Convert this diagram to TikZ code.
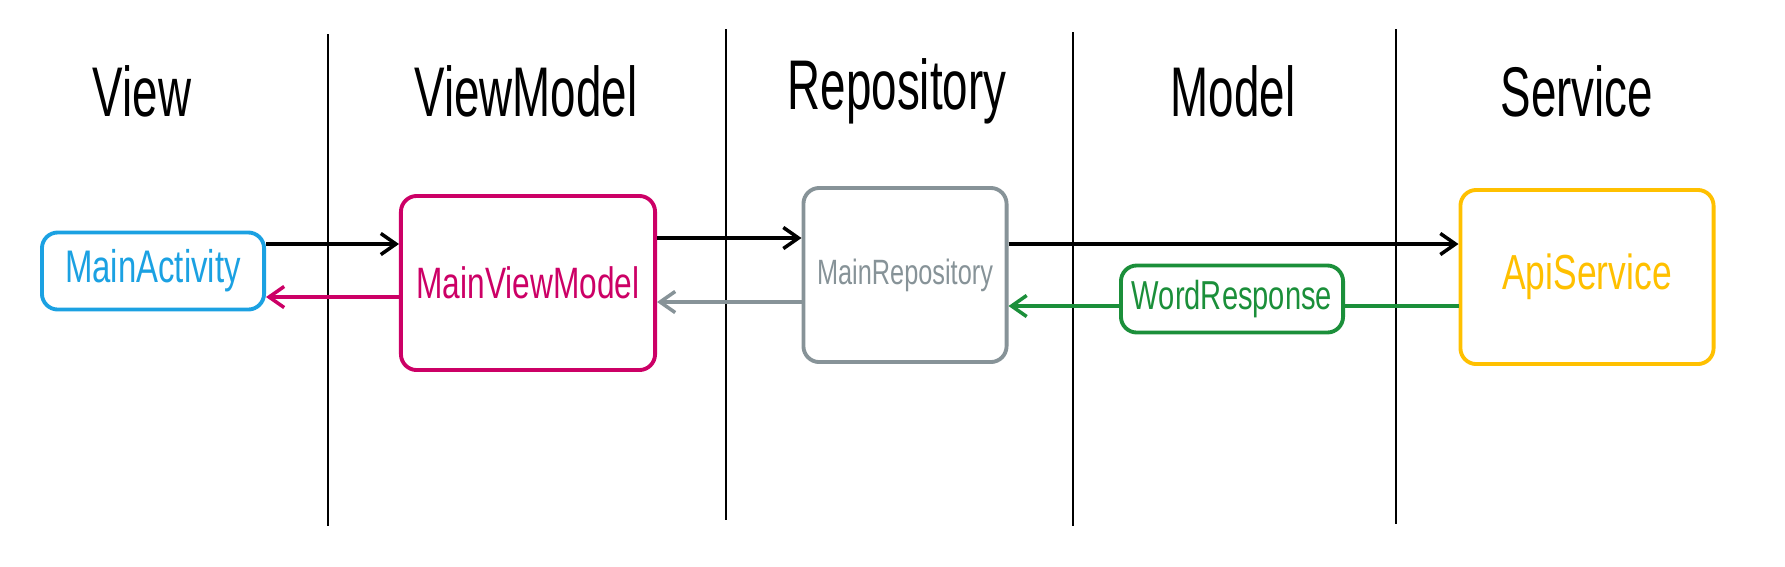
\documentclass[tikz,border=0pt]{standalone}
\usepackage{fontspec}
\usetikzlibrary{arrows.meta}
\newfontfamily\headfont[FakeStretch=0.65]{Liberation Sans}
\newfontfamily\boxfont[FakeStretch=0.72]{Liberation Sans}

\definecolor{viewblue}{HTML}{1BA1E2}
\definecolor{vmpink}{HTML}{CC0066}
\definecolor{repogray}{HTML}{879398}
\definecolor{modelgreen}{HTML}{1B8F3A}
\definecolor{apiyellow}{HTML}{FFC000}

\tikzset{
    layer/.style={font=\headfont\fontsize{20}{24}\selectfont},
    part/.style={draw, line width=1.1pt, rounded corners=4.5pt, font=\boxfont\fontsize{13}{16}\selectfont, inner sep=0pt},
    sep/.style={line width=0.75pt},
    arr/.style={line width=1pt, -{Straight Barb[length=4.3pt,width=6pt]}},
}

\begin{document}
\begin{tikzpicture}[x=0.01cm, y=-0.01cm]
            \useasboundingbox (0,0) rectangle (1785,566);

            % layer titles
            \node (tview) at (142,91) [layer] {View};
            \node (tvm) at (526,91) [layer] {ViewModel};
            \node (trepo) at (897,91) [layer] {Repository};
            \node (tmodel) at (1233,91) [layer] {Model};
            \node (tservice) at (1577,91) [layer] {Service};

            % layer borders
            \foreach \x/\t/\b in {328/34/526, 726/29/520, 1073/32/526, 1396/29/524}
                \draw[sep] (\x,\t) -- (\x,\b);

            % parts
            \node (act) at (153,271) [part, draw=viewblue, text=viewblue, minimum width=2.22cm, minimum height=0.77cm] {MainActivity};
            \node (vm) at (528,283) [part, draw=vmpink, text=vmpink, minimum width=2.54cm, minimum height=1.74cm, font=\boxfont\fontsize{12.5}{15}\selectfont] {MainViewModel};
            \node (repo) at (905,275) [part, draw=repogray, text=repogray, minimum width=2.03cm, minimum height=1.74cm, font=\boxfont\fontsize{10}{12}\selectfont] {MainRepository};
            \node (word) at (1232,299) [part, draw=modelgreen, text=modelgreen, minimum width=2.22cm, minimum height=0.67cm, font=\boxfont\fontsize{11.5}{14}\selectfont] {WordResponse};
            \node (api) at (1587,277) [part, draw=apiyellow, text=apiyellow, minimum width=2.53cm, minimum height=1.74cm, font=\boxfont\fontsize{14}{17}\selectfont] {ApiService};

            % calls
            \draw[arr] (act.east |- 0,244) -- (vm.west |- 0,244);
            \draw[arr] (vm.east |- 0,238) -- (repo.west |- 0,238);
            \draw[arr] (repo.east |- 0,244) -- (api.west |- 0,244);

            % results
            \draw[arr, vmpink] (vm.west |- 0,297) -- (act.east |- 0,297);
            \draw[arr, repogray] (repo.west |- 0,302) -- (vm.east |- 0,302);
            \draw[line width=1pt, modelgreen] (api.west |- 0,306) -- (word.east |- 0,306);
            \draw[arr, modelgreen] (word.west |- 0,306) -- (repo.east |- 0,306);
        \end{tikzpicture}
\end{document}
